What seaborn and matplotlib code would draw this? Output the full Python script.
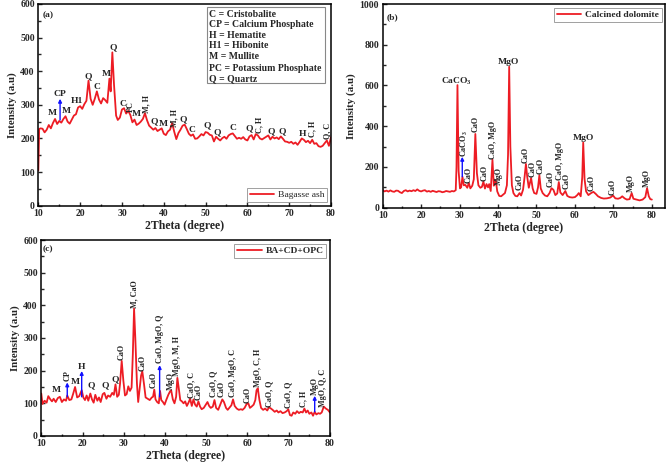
import matplotlib
matplotlib.use('Agg')
import matplotlib.pyplot as plt
from matplotlib.patches import Rectangle
from matplotlib.ticker import MultipleLocator
import seaborn as sns

# Bagasse ash pattern
ba_x = [10.0, 10.2, 10.5, 11.0, 11.5, 12.0, 12.5, 13.0, 13.5, 14.0,
        14.5, 15.0, 15.5, 16.0, 16.5, 17.0, 17.5, 18.0, 18.5, 19.0,
        19.5, 20.0, 20.5, 21.0, 21.5, 22.0, 22.5, 23.0, 23.5, 24.0,
        24.5, 25.0, 25.5, 26.0, 26.5, 27.0, 27.3, 27.7, 28.1, 28.6,
        29.0, 29.5, 30.0, 30.5, 31.0, 31.5, 32.0, 32.5, 33.0, 33.5,
        34.0, 34.5, 35.0, 35.5, 36.0, 36.5, 37.0, 37.5, 38.0, 38.5,
        39.0, 39.5, 40.0, 40.5, 41.0, 41.5, 42.0, 42.5, 43.0, 43.5,
        44.0, 44.5, 45.0, 45.5, 46.0, 46.5, 47.0, 47.5, 48.0, 48.5,
        49.0, 49.5, 50.0, 50.5, 51.0, 51.5, 52.0, 52.5, 53.0, 53.5,
        54.0, 54.5, 55.0, 55.5, 56.0, 56.5, 57.0, 57.5, 58.0, 58.5,
        59.0, 59.5, 60.0, 60.5, 61.0, 61.5, 62.0, 62.5, 63.0, 63.5,
        64.0, 64.5, 65.0, 65.5, 66.0, 66.5, 67.0, 67.5, 68.0, 68.5,
        69.0, 69.5, 70.0, 70.5, 71.0, 71.5, 72.0, 72.5, 73.0, 73.5,
        74.0, 74.5, 75.0, 75.5, 76.0, 76.5, 77.0, 77.5, 78.0, 78.5,
        79.0, 79.5, 80.0]
ba_y = [105, 228, 230, 229, 218, 226, 240, 230, 246, 258,
        243, 252, 247, 258, 266, 250, 244, 256, 268, 272,
        292, 296, 288, 302, 312, 372, 318, 300, 318, 340,
        316, 304, 320, 314, 306, 378, 340, 456, 360, 268,
        255, 262, 286, 290, 274, 282, 270, 248, 256, 240,
        244, 250, 258, 275, 254, 238, 232, 226, 231, 222,
        226, 230, 214, 210, 221, 226, 246, 220, 198, 216,
        226, 238, 241, 228, 214, 208, 212, 199, 200, 206,
        213, 209, 219, 217, 211, 209, 191, 205, 199, 194,
        201, 205, 199, 209, 213, 215, 207, 199, 202, 199,
        204, 197, 194, 206, 210, 197, 213, 209, 200, 197,
        201, 205, 209, 197, 205, 200, 203, 198, 206, 199,
        191, 190, 187, 190, 184, 188, 181, 190, 200, 196,
        189, 193, 186, 196, 184, 186, 177, 175, 178, 186,
        194, 178, 204]

# Calcined dolomite pattern
cd_x = [10.0, 10.5, 11.0, 11.5, 12.0, 12.5, 13.0, 13.5, 14.0, 14.5,
        15.0, 15.5, 16.0, 16.5, 17.0, 17.5, 18.0, 18.5, 19.0, 19.5,
        20.0, 20.5, 21.0, 21.5, 22.0, 22.5, 23.0, 23.5, 24.0, 24.5,
        25.0, 25.5, 26.0, 26.5, 27.0, 27.5, 28.0, 28.5, 29.0, 29.2,
        29.45, 29.75, 30.1, 30.4, 30.75, 31.1, 31.5, 32.0, 32.4, 32.8,
        33.3, 33.7, 34.1, 34.5, 34.9, 35.4, 35.8, 36.2, 36.6, 37.0,
        37.4, 37.7, 38.1, 38.55, 38.9, 39.4, 39.8, 40.3, 40.8, 41.3,
        41.8, 42.3, 42.6, 42.9, 43.2, 43.6, 44.0, 44.5, 45.0, 45.6,
        46.0, 46.5, 46.9, 47.25, 47.6, 48.0, 48.6, 49.0, 49.4, 50.0,
        50.4, 50.75, 51.1, 51.6, 52.2, 52.8, 53.4, 53.9, 54.4, 54.9,
        55.4, 55.8, 56.2, 56.8, 57.5, 58.0, 58.6, 59.3, 60.0, 60.6,
        61.0, 61.5, 61.9, 62.15, 62.5, 62.9, 63.5, 64.2, 64.8, 65.4,
        66.0, 66.8, 67.5, 68.3, 69.2, 69.9, 70.5, 71.2, 71.8, 72.3,
        72.9, 73.5, 74.2, 74.75, 75.2, 76.0, 76.8, 77.6, 78.3, 78.75,
        79.2, 79.6, 80.0]
cd_y = [86, 80, 84, 79, 85, 80, 78, 84, 83, 76,
        72, 82, 86, 80, 84, 81, 86, 82, 90, 83,
        80, 84, 86, 79, 82, 78, 83, 80, 77, 81,
        80, 76, 78, 82, 80, 78, 82, 80, 86, 200,
        602, 180, 95, 100, 152, 110, 112, 98, 122, 95,
        108, 140, 362, 170, 110, 98, 102, 128, 94, 116,
        100, 116, 82, 236, 108, 136, 80, 58, 56, 64,
        72, 110, 260, 692, 300, 110, 72, 58, 56, 72,
        60, 88, 150, 215, 150, 98, 146, 95, 72, 68,
        100, 160, 95, 72, 60, 56, 72, 96, 88, 62,
        70, 126, 75, 62, 82, 58, 52, 50, 52, 62,
        72, 56, 150, 320, 140, 80, 62, 72, 78, 68,
        56, 48, 45, 46, 50, 60, 46, 44, 48, 56,
        46, 40, 42, 72, 44, 40, 36, 40, 52, 96,
        56, 42, 40]

# BA+CD+OPC pattern
mix_x = [10.0, 10.3, 10.8, 11.3, 11.7, 12.2, 12.6, 13.0, 13.5, 14.0,
         14.5, 15.0, 15.5, 16.0, 16.3, 16.8, 17.3, 17.7, 18.2, 18.7,
         19.2, 19.8, 20.2, 20.6, 21.0, 21.4, 21.9, 22.3, 22.7, 23.1,
         23.6, 24.0, 24.4, 24.9, 25.3, 25.8, 26.2, 26.7, 27.2, 27.6,
         28.0, 28.4, 28.8, 29.1, 29.5, 29.9, 30.3, 30.7, 31.1, 31.5,
         31.9, 32.2, 32.5, 32.8, 33.2, 33.5, 33.8, 34.2, 34.5, 34.9,
         35.3, 35.8, 36.3, 36.8, 37.1, 37.4, 37.7, 38.1, 38.5, 38.8,
         39.1, 39.5, 39.9, 40.3, 40.8, 41.2, 41.5, 41.9, 42.3, 42.7,
         43.0, 43.3, 43.7, 44.1, 44.5, 44.9, 45.3, 45.7, 46.1, 46.5,
         46.9, 47.3, 47.7, 48.1, 48.5, 48.9, 49.4, 49.9, 50.3, 50.7,
         51.1, 51.6, 52.0, 52.4, 52.9, 53.4, 53.9, 54.3, 54.8, 55.2,
         55.7, 56.1, 56.5, 56.9, 57.4, 57.9, 58.4, 58.8, 59.3, 59.8,
         60.2, 60.6, 61.0, 61.5, 61.9, 62.2, 62.5, 62.9, 63.3, 63.8,
         64.3, 64.8, 65.2, 65.7, 66.1, 66.6, 67.1, 67.5, 68.0, 68.5,
         69.0, 69.5, 69.9, 70.3, 70.7, 71.1, 71.6, 72.0, 72.5, 72.9,
         73.4, 73.8, 74.2, 74.6, 75.0, 75.5, 75.9, 76.3, 76.7, 77.2,
         77.6, 78.0, 78.5, 79.0, 79.5, 80.0]
mix_y = [130, 98, 108, 102, 122, 112, 106, 114, 104, 116,
         120, 104, 112, 108, 124, 110, 112, 128, 150, 118,
         122, 140, 118, 110, 124, 108, 130, 112, 102, 126,
         108, 118, 104, 128, 132, 114, 124, 120, 132, 126,
         158, 120, 126, 160, 230, 170, 124, 128, 152, 138,
         148, 250, 390, 300, 160, 104, 140, 185, 198, 160,
         118, 114, 110, 118, 120, 142, 112, 104, 100, 138,
         110, 104, 96, 110, 126, 136, 140, 112, 100, 120,
         178, 150, 110, 106, 100, 106, 92, 102, 114, 92,
         112, 96, 90, 106, 90, 82, 86, 96, 104, 92,
         86, 90, 110, 86, 80, 96, 112, 104, 86, 80,
         88, 94, 112, 92, 84, 80, 82, 80, 86, 98,
         100, 86, 90, 96, 110, 140, 146, 110, 86, 80,
         84, 78, 88, 84, 80, 74, 78, 72, 76, 70,
         72, 76, 82, 64, 62, 72, 68, 76, 70, 74,
         72, 84, 72, 78, 68, 72, 62, 74, 66, 70,
         68, 72, 90, 84, 80, 72]

# peak labels: (text, 2theta, intensity)
a_flat = [("M", 13.4, 275), ("CP", 15.2, 331), ("M", 16.8, 282), ("H1", 19.2, 312),
          ("Q", 22.0, 386), ("C", 24.0, 352), ("M", 26.3, 392), ("Q", 27.9, 470),
          ("C", 30.2, 302), ("M", 33.5, 272), ("Q", 37.7, 250), ("M", 39.9, 243),
          ("Q", 44.6, 258), ("C", 46.8, 225), ("Q", 50.4, 238), ("Q", 52.8, 218),
          ("C", 56.5, 230), ("Q", 60.5, 230), ("Q", 65.6, 221), ("Q", 68.4, 221),
          ("H", 73.2, 213)]
a_rot = [("PC", 32.1, 295), ("M, H", 35.8, 303), ("M, H", 42.5, 262),
         ("C, H", 62.9, 240), ("C, H", 75.5, 227), ("Q, C", 79.1, 222)]
a_arrows = [(15.2, 255, 318)]
a_key = ["C = Cristobalite", "CP = Calcium Phosphate", "H = Hematite",
         "H1 = Hibonite", "M = Mullite", "PC = Potassium Phosphate", "Q = Quartz"]
a_key_y = [570, 539, 507, 475, 443, 409, 377]

b_flat = [("CaCO$_3$", 29.3, 619), ("MgO", 42.8, 714), ("MgO", 62.3, 341)]
b_rot = [("CaCO$_3$", 31.2, 250), ("CaO", 32.4, 122), ("CaO", 34.2, 370),
         ("CaO", 36.4, 130), ("CaO, MgO", 38.6, 240), ("MgO", 40.3, 112),
         ("CaO", 45.6, 88), ("CaO", 47.1, 218), ("CaO", 49.0, 150),
         ("CaO", 51.1, 165), ("CaO", 53.8, 100), ("CaO, MgO", 56.2, 136),
         ("CaO", 57.9, 92), ("CaO", 64.4, 80), ("CaO", 69.9, 64),
         ("MgO", 74.6, 76), ("MgO", 78.75, 103)]
b_arrows = [(30.7, 152, 250)]

c_flat = [("M", 13.6, 141), ("M", 18.2, 166), ("H", 19.8, 212), ("Q", 22.0, 156),
          ("Q", 25.4, 156), ("Q", 28.0, 173)]
c_rot = [("CP", 16.3, 168), ("CaO", 29.6, 232), ("M, CaO", 32.6, 392),
         ("CaO", 34.6, 200), ("CaO", 37.2, 146), ("CaO, MgO, Q", 38.9, 222),
         ("MgO", 41.5, 141), ("MgO, M, H", 43.0, 183), ("CaO, C", 46.3, 115),
         ("CaO", 48.1, 110), ("CaO, Q", 51.8, 120), ("CaO", 53.8, 120),
         ("CaO, MgO, C", 56.6, 120), ("CaO", 60.0, 100), ("MgO, C, H", 62.5, 151),
         ("CaO, Q", 65.2, 90), ("CaO, Q", 70.0, 85), ("C, H", 73.6, 90),
         ("MgO", 76.3, 125), ("MgO, Q, C", 78.4, 90)]
c_arrows = [(16.3, 120, 164), (19.8, 120, 199), (38.7, 120, 217), (76.3, 74, 123)]

RED = '#ed1c24'
BLUE = '#1010ff'

sns.set_style('ticks')
plt.rcParams['font.family'] = ['Liberation Serif', 'DejaVu Serif']
plt.rcParams['font.weight'] = 'bold'
plt.rcParams['axes.labelweight'] = 'bold'
plt.rcParams['mathtext.fontset'] = 'custom'
plt.rcParams['mathtext.rm'] = 'Liberation Serif:bold'
plt.rcParams['mathtext.default'] = 'rm'

fig = plt.figure(figsize=(6.69, 4.62), dpi=100)
ax_a = fig.add_axes([0.0573, 0.5548, 0.4375, 0.4366])
ax_b = fig.add_axes([0.572, 0.5504, 0.4225, 0.4409])
ax_c = fig.add_axes([0.0617, 0.0563, 0.4315, 0.4242])


def style_axes(ax, xmax, ymax, ystep):
    ax.set_xlim(10, xmax)
    ax.set_ylim(0, ymax)
    ax.xaxis.set_major_locator(MultipleLocator(10))
    ax.xaxis.set_minor_locator(MultipleLocator(5))
    ax.yaxis.set_major_locator(MultipleLocator(ystep))
    ax.yaxis.set_minor_locator(MultipleLocator(ystep / 2))
    ax.tick_params(which='both', direction='in', labelsize=7, width=1, pad=2.5)
    ax.tick_params(which='major', length=3)
    ax.tick_params(which='minor', length=1.8)
    for s in ax.spines.values():
        s.set_linewidth(1.1)
        s.set_color('black')
    ax.set_xlabel('2Theta (degree)', fontsize=8.5, labelpad=1)
    ax.set_ylabel('Intensity (a.u)', fontsize=7.8, labelpad=2.5)


def add_labels(ax, flat, rot, arrows, rot_va):
    for txt, x, y in flat:
        ax.text(x, y, txt, ha='center', va='center', fontsize=6.8)
    for txt, x, y in rot:
        ax.text(x, y, txt, rotation=90, ha='center', va=rot_va, fontsize=5.9)
    for x, y0, y1 in arrows:
        ax.annotate('', xy=(x, y1), xytext=(x, y0),
                    arrowprops=dict(arrowstyle='-|>', color=BLUE, lw=1.0,
                                    mutation_scale=5, shrinkA=0, shrinkB=0))


def add_legend(ax, loc, weight):
    leg = ax.legend(loc=loc, frameon=True, fancybox=False,
                    handlelength=2.6, handletextpad=0.4, borderpad=0.3,
                    borderaxespad=0.4, prop={'weight': weight, 'size': 6.8})
    leg.get_frame().set_edgecolor('#888888')
    leg.get_frame().set_linewidth(0.7)


# (a) Bagasse ash
sns.lineplot(x=ba_x, y=ba_y, ax=ax_a, color=RED, linewidth=1.3,
             label='Bagasse ash', estimator=None)
style_axes(ax_a, 80, 600, 100)
add_labels(ax_a, a_flat, a_rot, a_arrows, 'center')
ax_a.add_patch(Rectangle((0.575, 0.608), 0.405, 0.379, transform=ax_a.transAxes,
                         facecolor='white', edgecolor='#888888', linewidth=0.8))
for line, y in zip(a_key, a_key_y):
    ax_a.text(50.9, y, line, ha='left', va='center', fontsize=7)
ax_a.text(12.4, 567, '(a)', ha='center', va='center', fontsize=6.8)
add_legend(ax_a, 'lower right', 'normal')

# (b) Calcined dolomite
sns.lineplot(x=cd_x, y=cd_y, ax=ax_b, color=RED, linewidth=1.3,
             label='Calcined dolomite', estimator=None)
style_axes(ax_b, 83.5, 1000, 200)
add_labels(ax_b, b_flat, b_rot, b_arrows, 'bottom')
ax_b.text(12.6, 933, '(b)', ha='center', va='center', fontsize=6.8)
add_legend(ax_b, 'upper right', 'bold')

# (c) BA+CD+OPC
sns.lineplot(x=mix_x, y=mix_y, ax=ax_c, color=RED, linewidth=1.3,
             label='BA+CD+OPC', estimator=None)
style_axes(ax_c, 80, 600, 100)
add_labels(ax_c, c_flat, c_rot, c_arrows, 'bottom')
ax_c.text(11.6, 572, '(c)', ha='center', va='center', fontsize=6.8)
add_legend(ax_c, 'upper right', 'bold')

fig.savefig('out.png', dpi=100)
